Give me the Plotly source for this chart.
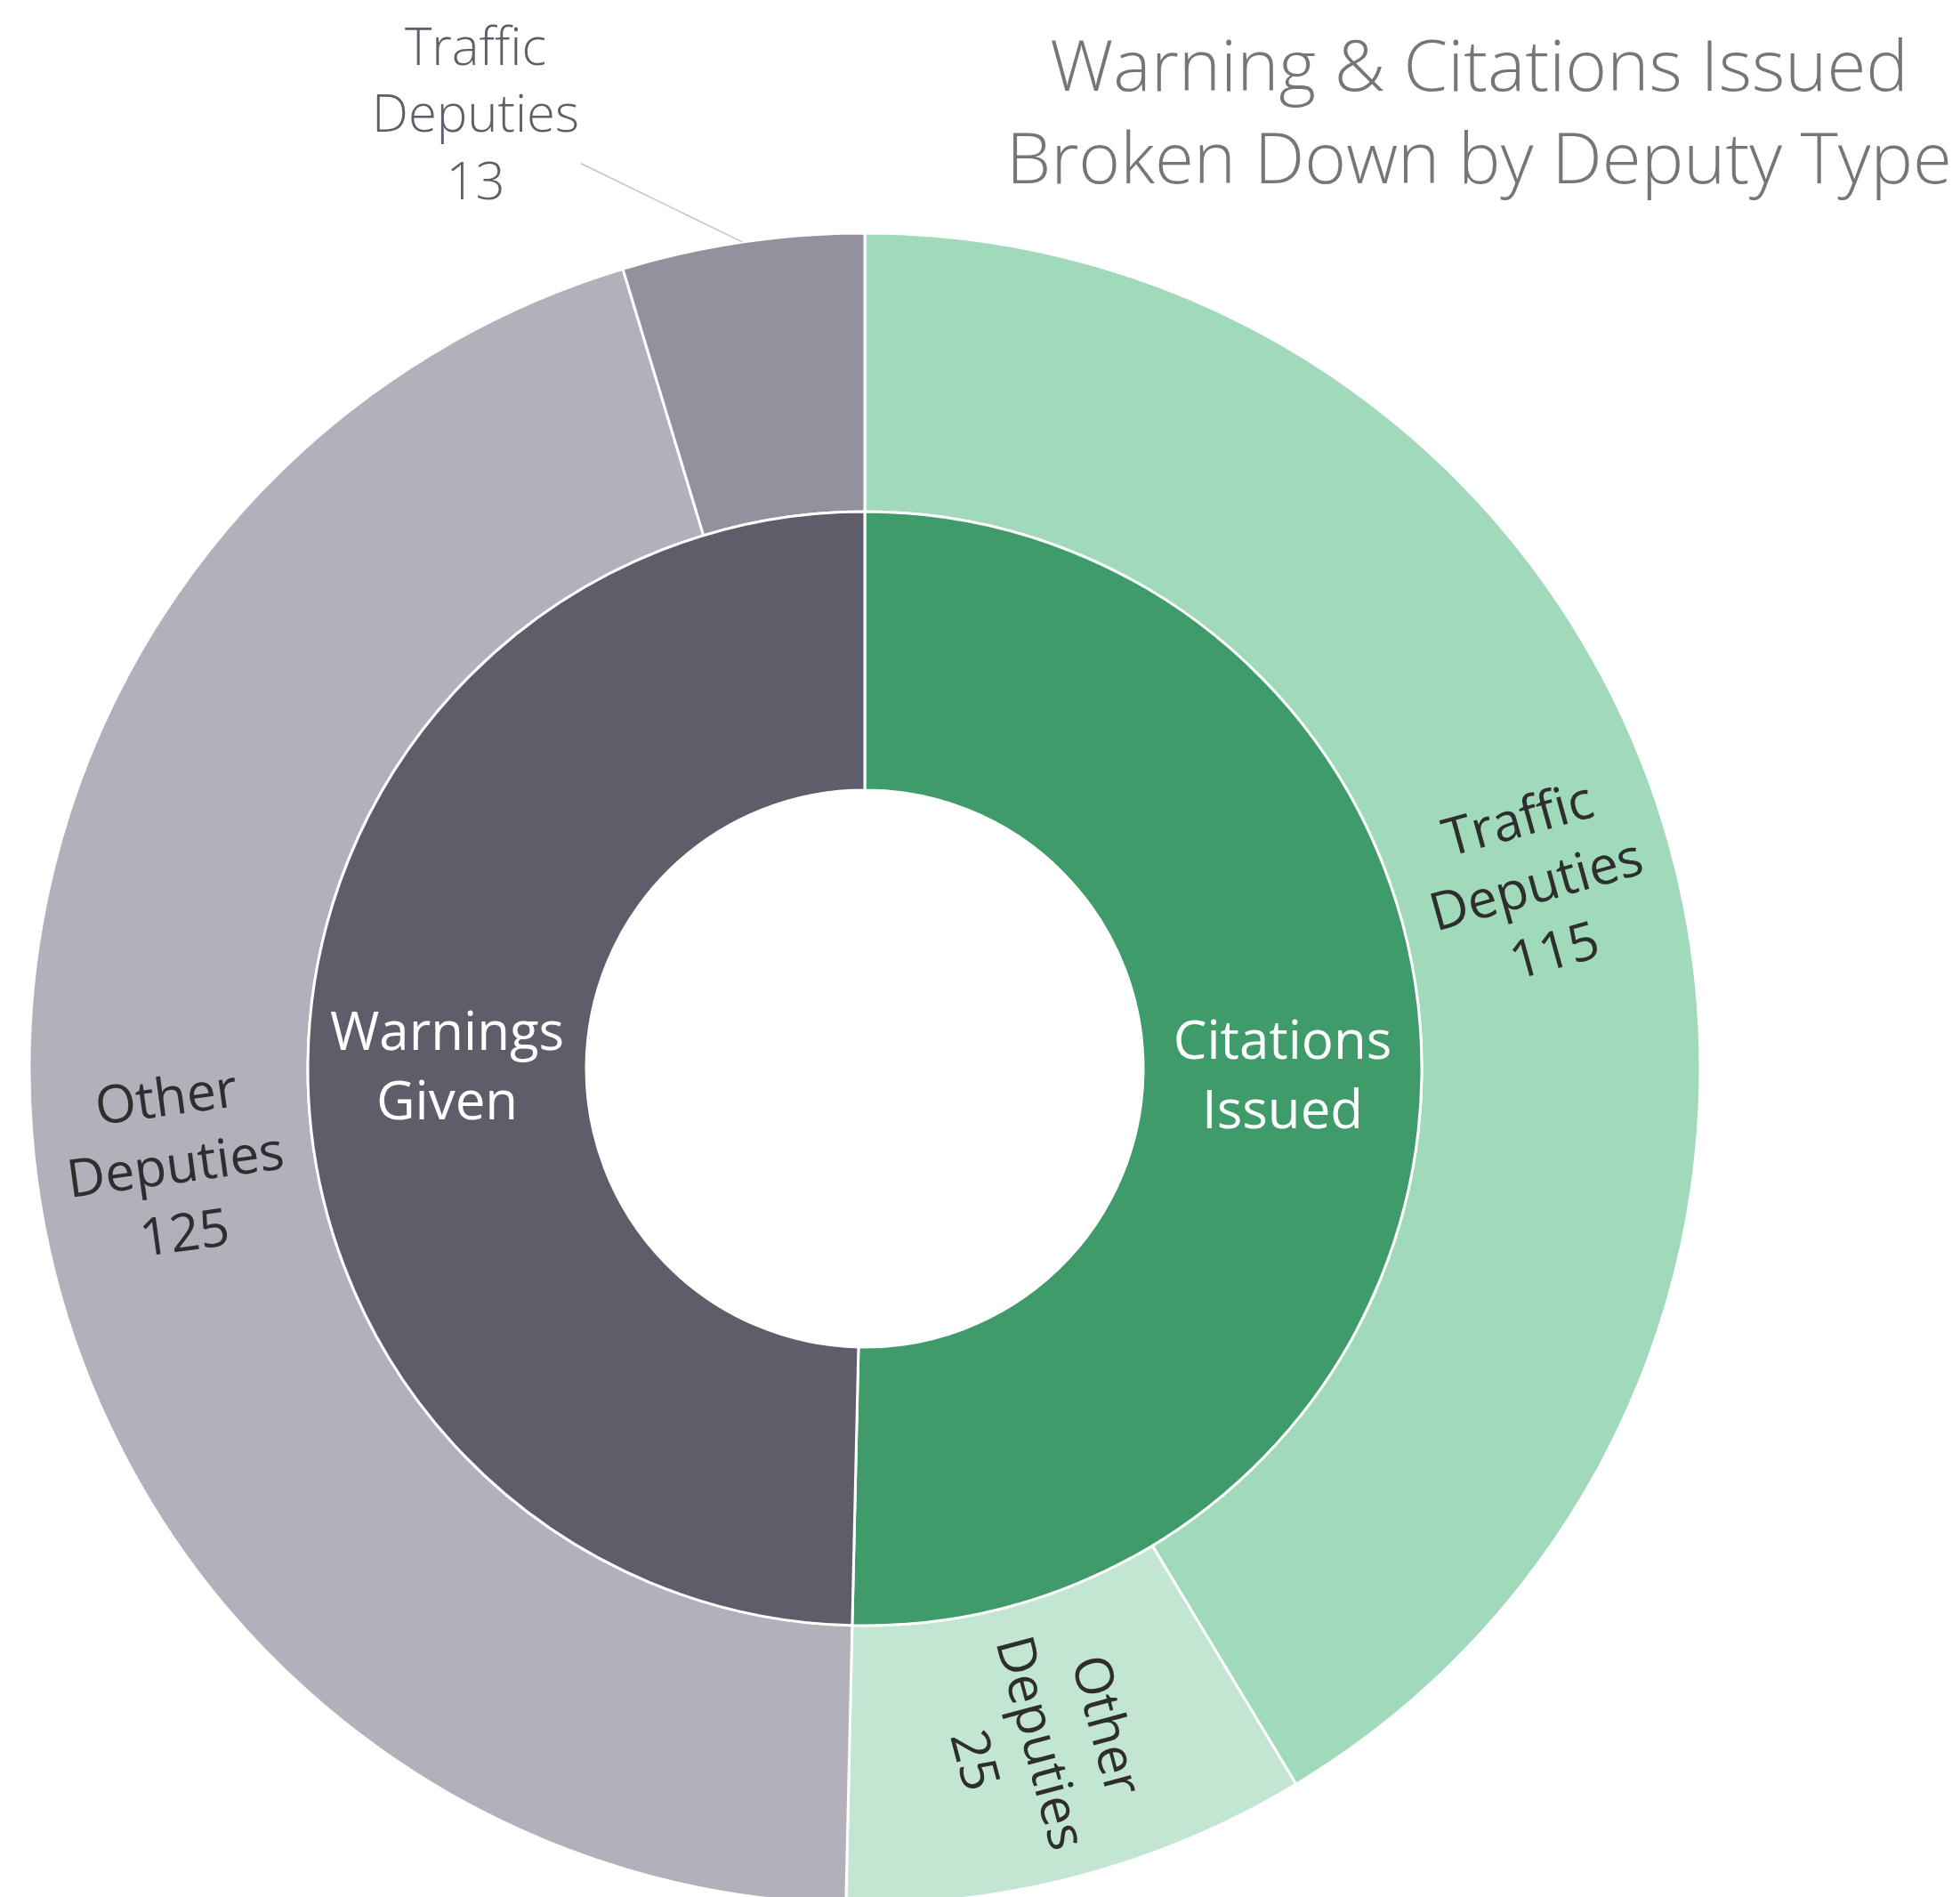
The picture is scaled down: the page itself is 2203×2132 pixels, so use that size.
import math
import plotly.graph_objects as go

W, H = 2203, 2132

# Inner ring (issue type)
inner_labels = ["Citations<br>Issued", "Warnings<br>Given"]
inner_values = [140, 138]
inner_colors = ["#3f9b69", "#5f5d6a"]

# Outer ring (deputy type within each issue type, clockwise from 12 o'clock)
outer_ids = ["Citations - Traffic Deputies", "Citations - Other Deputies",
             "Warnings - Other Deputies", "Warnings - Traffic Deputies"]
outer_text = ["Traffic<br>Deputies", "Other<br>Deputies", "Other<br>Deputies", "Traffic<br>Deputies"]
outer_values = [115, 25, 125, 13]
outer_colors = ["#a1d9bb", "#c2e6d2", "#b1b0bb", "#93919e"]
outer_textpos = ["inside", "inside", "inside", "outside"]

title_text = "Warning & Citations Issued<br>Broken Down by Deputy Type"

# geometry (pixels, figure coordinates; page body adds an 8px offset)
cx, cy_top, R = 964, 1193, 939
cy = H - cy_top
Ri = R * 2 / 3

fig = go.Figure()
fig.add_trace(go.Pie(
    labels=outer_ids, values=outer_values, text=outer_text,
    textinfo="none",
    sort=False, direction="clockwise", rotation=0, hole=2 / 3,
    marker=dict(colors=outer_colors, line=dict(color="white", width=3)),
    domain=dict(x=[(cx - R) / W, (cx + R) / W], y=[max(0, (cy - R) / H), (cy + R) / H]),
    showlegend=False, hoverinfo="label+value",
))
fig.add_trace(go.Pie(
    labels=inner_labels, values=inner_values,
    textinfo="label", textposition="inside",
    insidetextorientation="horizontal",
    sort=False, direction="clockwise", rotation=0, hole=0.5,
    marker=dict(colors=inner_colors, line=dict(color="white", width=3)),
    textfont=dict(family="Open Sans", size=60, color="white"),
    domain=dict(x=[(cx - Ri) / W, (cx + Ri) / W], y=[(cy - Ri) / H, (cy + Ri) / H]),
    showlegend=False, hoverinfo="label+value",
))

# outer ring labels, radial orientation at each slice's mid-angle
total = sum(outer_values)
cum = 0
for v, txt, pos in zip(outer_values, outer_text, outer_textpos):
    mid_deg = (cum + v / 2) / total * 360
    cum += v
    th = math.radians(mid_deg)
    label = f"{txt}<br>{v}"
    if pos == "inside":
        r = R * 5 / 6
        a = mid_deg - 90
        if a > 90:
            a -= 180
        if a < -90:
            a += 180
        fig.add_annotation(
            x=(cx + r * math.sin(th)) / W, y=(cy + r * math.cos(th)) / H,
            xref="paper", yref="paper", text=label, showarrow=False,
            textangle=a, xanchor="center", yanchor="middle", align="center",
            font=dict(family="Open Sans", size=59, color="#2e2e2e"),
        )
    else:
        fig.add_annotation(
            x=(cx + R * math.sin(th)) / W, y=(cy + R * math.cos(th)) / H,
            xref="paper", yref="paper", text=label, showarrow=True,
            arrowhead=0, arrowwidth=1.5, arrowcolor="#c4c4c4",
            ax=-300, ay=-146, align="center",
            font=dict(family="Open Sans", size=58, color="#5f5d6a", weight=300),
        )

fig.add_annotation(
    x=0.993, y=1 - 6 / H, xref="paper", yref="paper", xanchor="right", yanchor="top",
    text=title_text, showarrow=False, align="center",
    font=dict(family="Open Sans", size=80, color="#767676", weight=300),
)

fig.update_layout(
    width=W, height=H,
    margin=dict(l=0, r=0, t=0, b=0),
    paper_bgcolor="white", plot_bgcolor="white",
)

fig.write_html("out.html")
